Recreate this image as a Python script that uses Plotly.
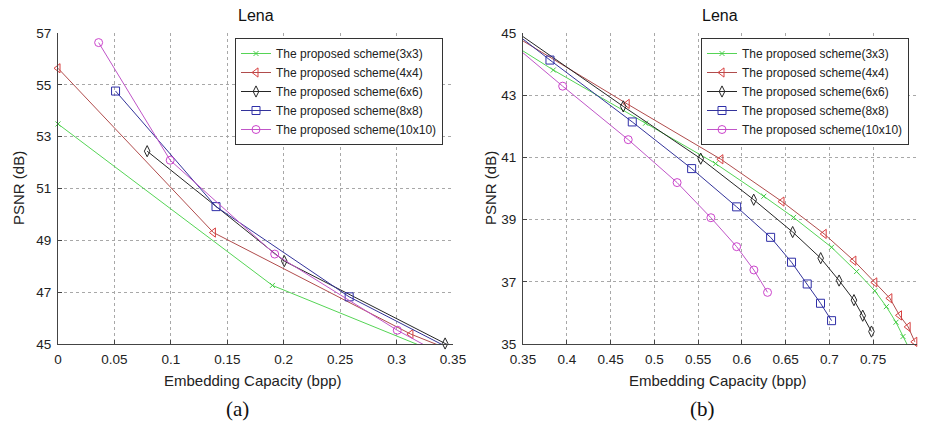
import plotly.graph_objects as go

# ---------------- data ----------------
names = ["The proposed scheme(3x3)", "The proposed scheme(4x4)", "The proposed scheme(6x6)",
         "The proposed scheme(8x8)", "The proposed scheme(10x10)"]

x_3x3 = [0.0, 0.190, 0.3846, 0.49, 0.57, 0.625, 0.659, 0.7024, 0.731, 0.7518, 0.765, 0.776, 0.784, 0.792]
y_3x3 = [53.49, 47.26, 43.81, 42.10, 40.80, 39.75, 39.07, 38.11, 37.33, 36.71, 36.20, 35.70, 35.24, 34.80]

x_4x4 = [0.0, 0.1377, 0.3127, 0.469, 0.576, 0.6458, 0.694, 0.7279, 0.7518, 0.769, 0.780, 0.7899, 0.7975]
y_4x4 = [55.64, 49.30, 45.38, 42.72, 40.94, 39.58, 38.54, 37.68, 36.98, 36.47, 35.92, 35.55, 35.07]

x_6x6 = [0.079, 0.2005, 0.343, 0.4645, 0.553, 0.6135, 0.658, 0.690, 0.711, 0.728, 0.738, 0.748]
y_6x6 = [52.44, 48.20, 45.02, 42.64, 40.96, 39.64, 38.60, 37.76, 37.04, 36.41, 35.91, 35.40]

x_8x8 = [0.051, 0.140, 0.258, 0.3808, 0.4748, 0.5426, 0.594, 0.6328, 0.6567, 0.6746, 0.6898, 0.7024]
y_8x8 = [54.76, 50.30, 46.82, 44.13, 42.14, 40.64, 39.41, 38.43, 37.63, 36.93, 36.31, 35.75]

x_10x10 = [0.036, 0.0994, 0.192, 0.3006, 0.3953, 0.4702, 0.526, 0.5646, 0.594, 0.6137, 0.6293]
y_10x10 = [56.63, 52.09, 48.47, 45.53, 43.29, 41.57, 40.19, 39.06, 38.13, 37.38, 36.66]

xticks_a = [0, 0.05, 0.1, 0.15, 0.2, 0.25, 0.3, 0.35]
xticklabels_a = ["0", "0.05", "0.1", "0.15", "0.2", "0.25", "0.3", "0.35"]
yticks_a = [45, 47, 49, 51, 53, 55, 57]

xticks_b = [0.35, 0.4, 0.45, 0.5, 0.55, 0.6, 0.65, 0.7, 0.75, 0.8]
xticklabels_b = ["0.35", "0.4", "0.45", "0.5", "0.55", "0.6", "0.65", "0.7", "0.75", "0.8"]
yticks_b = [35, 37, 39, 41, 43, 45]

xrange_a, yrange_a = [0, 0.35], [45, 57]
xrange_b, yrange_b = [0.35, 0.8], [35, 45]

# ---------------- styles ----------------
series_x = [x_3x3, x_4x4, x_6x6, x_8x8, x_10x10]
series_y = [y_3x3, y_4x4, y_6x6, y_8x8, y_10x10]
line_colors = ["#55d455", "#b04c4c", "#262626", "#33339a", "#c055c8"]
marker_colors = ["#44cc44", "#d84040", "#262626", "#2f2fa8", "#cc44cc"]
symbols = ["x-thin-open", "triangle-left-open", "diamond-tall-open", "square-open", "circle-open"]
sizes = [5, 8, 8, 8, 8]

W, H = 926, 427
FONT = "Liberation Sans, Arial, sans-serif"
TXT = "#222222"

fig = go.Figure()

panels = [
    dict(xa="x", ya="y", legend="legend", xr=xrange_a, yr=yrange_a),
    dict(xa="x2", ya="y2", legend="legend2", xr=xrange_b, yr=yrange_b),
]

def inside(x, y, p):
    eps = 1e-9
    return (p["xr"][0] - eps <= x <= p["xr"][1] + eps) and (p["yr"][0] - eps <= y <= p["yr"][1] + eps)

for p in panels:
    for i in range(5):
        xs, ys = series_x[i], series_y[i]
        # connecting line (clipped to the axes)
        fig.add_trace(go.Scatter(x=xs, y=ys, mode="lines", xaxis=p["xa"], yaxis=p["ya"],
                                 line=dict(color=line_colors[i], width=1), showlegend=False,
                                 hoverinfo="skip"))
        # markers inside the axes range (not clipped, like MATLAB)
        pts = [(x, y) for x, y in zip(xs, ys) if inside(x, y, p)]
        fig.add_trace(go.Scatter(x=[a for a, _ in pts], y=[b for _, b in pts], mode="markers",
                                 xaxis=p["xa"], yaxis=p["ya"], cliponaxis=False, showlegend=False,
                                 marker=dict(symbol=symbols[i], size=sizes[i], color=marker_colors[i],
                                             line=dict(width=1, color=marker_colors[i]))))
        # legend entry
        fig.add_trace(go.Scatter(x=[None], y=[None], mode="lines+markers", name=names[i],
                                 xaxis=p["xa"], yaxis=p["ya"], legend=p["legend"],
                                 line=dict(color=line_colors[i], width=1),
                                 marker=dict(symbol=symbols[i], size=sizes[i], color=marker_colors[i],
                                             line=dict(width=1, color=marker_colors[i]))))

def px_x(px):
    return px / W

def px_y(py):
    return 1 - py / H

axis_common = dict(showgrid=True, gridcolor="#a8a8a8", griddash="dot", gridwidth=1,
                   showline=True, linecolor="#444444", linewidth=1, mirror=False,
                   ticks="inside", ticklen=4, tickcolor="#444444", zeroline=False,
                   automargin=False,
                   tickfont=dict(family=FONT, size=13.5, color=TXT))

fig.update_layout(
    width=W, height=H, margin=dict(l=0, r=0, t=0, b=0, autoexpand=False),
    paper_bgcolor="white", plot_bgcolor="white",
    xaxis=dict(domain=[px_x(58), px_x(453)], range=xrange_a, anchor="y", ticklabelstandoff=3,
               tickvals=xticks_a, ticktext=xticklabels_a, **axis_common),
    yaxis=dict(domain=[px_y(344), px_y(33)], range=yrange_a, anchor="x", ticklabelstandoff=3,
               tickvals=yticks_a, **axis_common),
    xaxis2=dict(domain=[px_x(523), px_x(917)], range=xrange_b, anchor="y2", ticklabelstandoff=3,
                tickvals=xticks_b, ticktext=xticklabels_b, **axis_common),
    yaxis2=dict(domain=[px_y(344), px_y(33)], range=yrange_b, anchor="x2", ticklabelstandoff=3,
                tickvals=yticks_b, **axis_common),
    legend=dict(x=px_x(235), y=px_y(38), xanchor="left", yanchor="top",
                bgcolor="white", bordercolor="#333333", borderwidth=1,
                font=dict(family=FONT, size=12, color=TXT), tracegroupgap=0),
    legend2=dict(x=px_x(701), y=px_y(38), xanchor="left", yanchor="top",
                 bgcolor="white", bordercolor="#333333", borderwidth=1,
                 font=dict(family=FONT, size=12, color=TXT), tracegroupgap=0),
    showlegend=True,
)

ann = []
for cx, lx, plab, ylx, sub in [(255.5, 252.5, 237, 18, "(a)"), (720, 718, 702, 490, "(b)")]:
    ann.append(dict(text="Lena", x=px_x(cx), y=px_y(15), xref="paper", yref="paper",
                    xanchor="center", yanchor="middle",
                    showarrow=False, font=dict(family=FONT, size=16, color="#111111")))
    ann.append(dict(text="Embedding Capacity (bpp)", x=px_x(lx), y=px_y(380), xref="paper", yref="paper",
                    xanchor="center", yanchor="middle",
                    showarrow=False, font=dict(family=FONT, size=15, color=TXT)))
    ann.append(dict(text="PSNR (dB)", x=px_x(ylx), y=px_y(188), xref="paper", yref="paper",
                    xanchor="center", yanchor="middle",
                    textangle=-90, showarrow=False, font=dict(family=FONT, size=15, color=TXT)))
    ann.append(dict(text=sub, x=px_x(plab), y=px_y(409), xref="paper", yref="paper",
                    xanchor="center", yanchor="middle",
                    showarrow=False, font=dict(family="Liberation Serif, DejaVu Serif, serif", size=21, color="#111111")))
fig.update_layout(annotations=ann)

fig.write_html("out.html", config={"displayModeBar": False},
               post_script="document.body.style.margin='0px';document.body.style.padding='0px';"
                           "document.body.style.overflow='hidden';")
